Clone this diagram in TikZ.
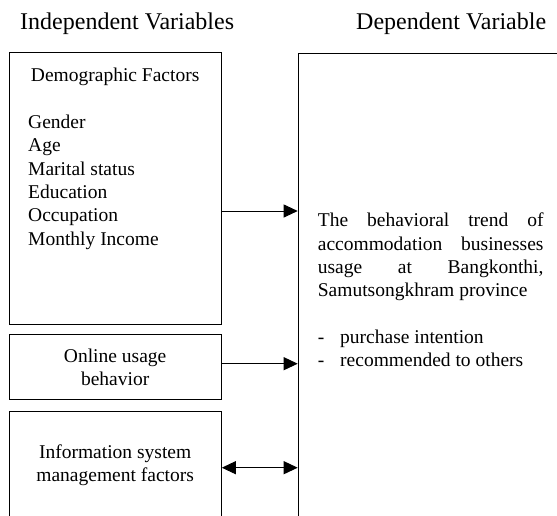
\documentclass[tikz,border=0pt]{standalone}
\usepackage{fontspec}
\setmainfont{Liberation Serif}
\usetikzlibrary{arrows.meta}

\tikzset{
  box/.style={draw, line width=1pt, inner sep=0pt, align=center, font=\fontsize{19.5}{23.3}\selectfont},
  txt/.style={inner sep=0pt, font=\fontsize{19.5}{23.3}\selectfont},
  head/.style={inner sep=0pt, font=\fontsize{24}{28}\selectfont},
  arr/.style={-{Triangle[length=14pt,width=13pt]}, line width=1pt},
  darr/.style={{Triangle[length=14pt,width=13pt]}-{Triangle[length=14pt,width=13pt]}, line width=1pt}
}

\begin{document}
\begin{tikzpicture}[x=1pt,y=1pt,yscale=-1,xscale=1]
\useasboundingbox (0,0) rectangle (557,515);
\clip (0,0) rectangle (557,515);

% Text Node
\node [head, anchor=base west] (indep) at (20,29.3) {Independent Variables};
% Text Node
\node [head, anchor=base west] (dept) at (356,29.3) {Dependent Variable};

%Shape: Rectangle [demographic]
\node [box, minimum width=212.3pt, minimum height=271.3pt] (demo) at (115.15,188.6) {};
% Text Node
\node [txt, anchor=base] (demohead) at (115.15,81.7) {Demographic Factors};
% Text Node (base = last line)
\node [txt, anchor=base west, align=left] (demolist) at (28,245) {Gender\\Age\\Marital status\\Education\\Occupation\\Monthly Income};

%Shape: Rectangle [online]
\node [box, minimum width=212.3pt, minimum height=65.3pt] (online) at (115.15,367.3) {Online usage\\behavior};
%Shape: Rectangle [information system]
\node [box, minimum width=212.3pt, minimum height=107.2pt] (info) at (115.15,465.3) {Information system\\management factors};

%Shape: Rectangle [dependent]
\node [box, anchor=north west, minimum width=300pt, minimum height=500pt] (dep) at (297.7,52.7) {};
% Text Node
\node [txt, anchor=base west, text width=225.6pt, align=justify] (deptext) at (317.7,226.7) {\tolerance=10000\hbadness=10000\hyphenpenalty=10000
The behavioral trend of\linebreak accommodation businesses\linebreak usage at Bangkonthi,\linebreak Samutsongkhram province\par\vskip 23.3pt
\noindent\makebox[22.3pt][l]{-}purchase intention\par
\noindent\makebox[22.3pt][l]{-}recommended to others};

%Straight Lines (yscale=-1, so a positive yshift goes down)
\draw [arr] ([yshift=22.4pt]demo.east) -- ([yshift=22.4pt]demo.east -| dep.west);
\draw [arr] ([yshift=-3.6pt]online.east) -- ([yshift=-3.6pt]online.east -| dep.west);
\draw [darr] ([yshift=2.4pt]info.east) -- ([yshift=2.4pt]info.east -| dep.west);

\end{tikzpicture}
\end{document}
